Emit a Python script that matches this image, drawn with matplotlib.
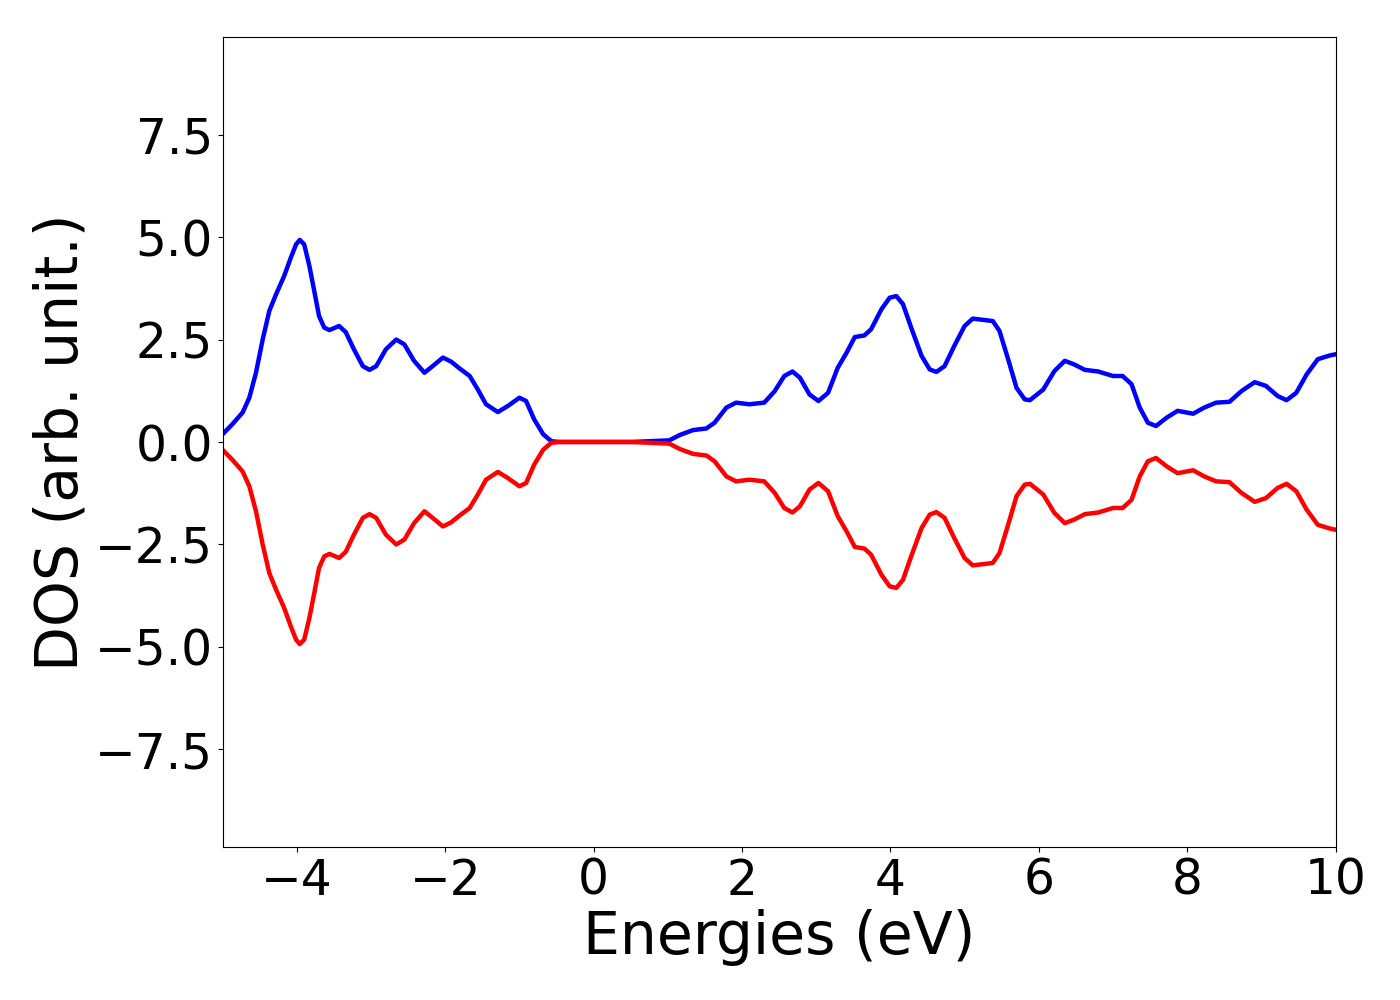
import matplotlib
matplotlib.use("Agg")
import matplotlib.pyplot as plt

# energies (eV) and total DOS (spin-up; spin-down is mirrored)
energies = [-5.00, -4.87, -4.73, -4.64, -4.55, -4.46, -4.37, -4.28, -4.17, -4.08,
            -4.01, -3.96, -3.90, -3.83, -3.76, -3.70, -3.63, -3.56, -3.43, -3.34,
            -3.23, -3.11, -3.02, -2.93, -2.80, -2.66, -2.55, -2.42, -2.28, -2.17,
            -2.03, -1.92, -1.81, -1.67, -1.56, -1.45, -1.29, -1.155, -1.00, -0.91,
            -0.80, -0.68, -0.57, -0.46, 0.00, 0.50, 1.02, 1.16, 1.34, 1.52,
            1.63, 1.79, 1.92, 2.10, 2.30, 2.44, 2.57, 2.68, 2.78, 2.91,
            3.03, 3.16, 3.29, 3.41, 3.52, 3.65, 3.74, 3.88, 3.99, 4.08,
            4.17, 4.28, 4.42, 4.53, 4.62, 4.73, 4.86, 5.00, 5.11, 5.25,
            5.38, 5.47, 5.58, 5.70, 5.81, 5.88, 6.06, 6.21, 6.35, 6.48,
            6.62, 6.80, 7.00, 7.13, 7.25, 7.36, 7.47, 7.58, 7.72, 7.87,
            8.08, 8.23, 8.39, 8.57, 8.73, 8.91, 9.06, 9.22, 9.34, 9.47,
            9.61, 9.76, 9.92, 10.00]
dos_up = [0.19, 0.43, 0.72, 1.08, 1.69, 2.50, 3.20, 3.60, 4.05, 4.50,
          4.82, 4.93, 4.82, 4.29, 3.64, 3.07, 2.79, 2.73, 2.83, 2.68,
          2.26, 1.85, 1.76, 1.85, 2.26, 2.50, 2.38, 1.98, 1.69, 1.85,
          2.06, 1.96, 1.80, 1.61, 1.28, 0.92, 0.73, 0.88, 1.08, 1.00,
          0.55, 0.19, 0.02, 0.00, 0.00, 0.00, 0.04, 0.17, 0.29, 0.33,
          0.47, 0.84, 0.96, 0.92, 0.96, 1.24, 1.61, 1.72, 1.57, 1.16,
          1.00, 1.20, 1.81, 2.18, 2.56, 2.60, 2.75, 3.24, 3.52, 3.56,
          3.36, 2.79, 2.10, 1.77, 1.71, 1.85, 2.34, 2.83, 3.01, 2.98,
          2.95, 2.71, 2.06, 1.32, 1.04, 1.02, 1.28, 1.73, 1.98, 1.89,
          1.76, 1.72, 1.61, 1.61, 1.41, 0.84, 0.47, 0.39, 0.59, 0.76,
          0.69, 0.84, 0.96, 0.98, 1.24, 1.46, 1.37, 1.12, 1.02, 1.20,
          1.65, 2.02, 2.11, 2.14]
dos_down = [-v for v in dos_up]

xticks = [-4, -2, 0, 2, 4, 6, 8, 10]
yticks = [-7.5, -5.0, -2.5, 0.0, 2.5, 5.0, 7.5]

fig = plt.figure(figsize=(14, 10), dpi=100)
ax = fig.add_axes([0.159, 0.153, 0.795, 0.81])
ax.plot(energies, dos_up, color="blue", lw=3.2, solid_joinstyle="round")
ax.plot(energies, dos_down, color="red", lw=3.2, solid_joinstyle="round")
ax.set_xlim(-5, 10)
ax.set_ylim(-9.88, 9.88)
ax.set_xticks(xticks)
ax.set_yticks(yticks)
ax.tick_params(labelsize=35)
ax.set_xlabel("Energies (eV)", fontsize=42, labelpad=3)
ax.set_ylabel("DOS (arb. unit.)", fontsize=42)
fig.savefig("out.png", dpi=100)
